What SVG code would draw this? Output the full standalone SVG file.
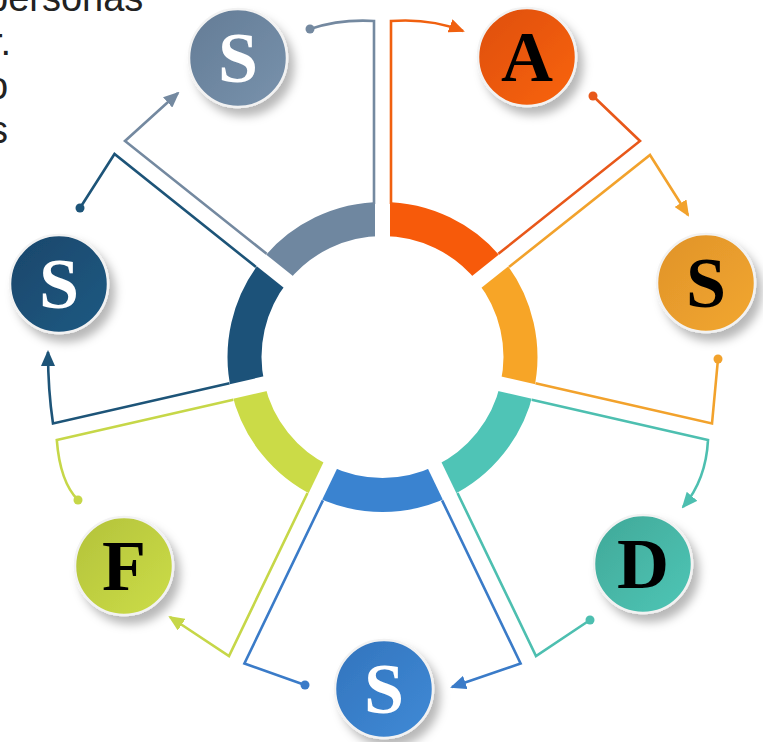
<svg xmlns="http://www.w3.org/2000/svg" width="763" height="742" viewBox="0 0 763 742">
<style>
.seg{fill:none;stroke-width:34}
.gap{stroke:#fff;stroke-width:15;stroke-linecap:butt}
.con{fill:none;stroke-width:2.6;stroke-linejoin:miter}
.node circle{stroke:#f2f2f2;stroke-width:2.5;filter:url(#sh)}
.lt{font-family:"Liberation Serif","Times New Roman",serif;font-weight:bold;font-size:72px;text-anchor:middle}
.side{font-family:"Liberation Sans",Arial,sans-serif;font-size:38px;fill:#222}
</style>
<defs>
<filter id="sh" x="-30%" y="-30%" width="170%" height="170%">
<feDropShadow dx="6" dy="8" stdDeviation="5" flood-color="#000" flood-opacity="0.28"/>
</filter>
<linearGradient id="gGray" x1="0" y1="0" x2="1" y2="1"><stop offset="0" stop-color="#647C96"/><stop offset="1" stop-color="#7892AC"/></linearGradient>
<linearGradient id="gOra" x1="0" y1="0" x2="1" y2="1"><stop offset="0" stop-color="#DE4E0A"/><stop offset="1" stop-color="#F9640E"/></linearGradient>
<linearGradient id="gAmb" x1="0" y1="0" x2="1" y2="1"><stop offset="0" stop-color="#E0932A"/><stop offset="1" stop-color="#F2A730"/></linearGradient>
<linearGradient id="gTeal" x1="0" y1="0" x2="1" y2="1"><stop offset="0" stop-color="#40A898"/><stop offset="1" stop-color="#4FC6B6"/></linearGradient>
<linearGradient id="gBlue" x1="0" y1="0" x2="1" y2="1"><stop offset="0" stop-color="#3374BD"/><stop offset="1" stop-color="#3F8AD6"/></linearGradient>
<linearGradient id="gLime" x1="0" y1="0" x2="1" y2="1"><stop offset="0" stop-color="#B3C23B"/><stop offset="1" stop-color="#CCDD48"/></linearGradient>
<linearGradient id="gNavy" x1="0" y1="0" x2="1" y2="1"><stop offset="0" stop-color="#18476B"/><stop offset="1" stop-color="#205982"/></linearGradient>
<marker id="aGray" markerUnits="userSpaceOnUse" markerWidth="16" markerHeight="14" refX="14" refY="7" orient="auto"><path d="M0,0 L16,7 L0,14 z" fill="#7489A0"/></marker>
<marker id="aOra" markerUnits="userSpaceOnUse" markerWidth="16" markerHeight="14" refX="14" refY="7" orient="auto"><path d="M0,0 L16,7 L0,14 z" fill="#F0600F"/></marker>
<marker id="aAmb" markerUnits="userSpaceOnUse" markerWidth="16" markerHeight="14" refX="14" refY="7" orient="auto"><path d="M0,0 L16,7 L0,14 z" fill="#F2A22C"/></marker>
<marker id="aTeal" markerUnits="userSpaceOnUse" markerWidth="16" markerHeight="14" refX="14" refY="7" orient="auto"><path d="M0,0 L16,7 L0,14 z" fill="#4DBFB0"/></marker>
<marker id="aBlue" markerUnits="userSpaceOnUse" markerWidth="16" markerHeight="14" refX="14" refY="7" orient="auto"><path d="M0,0 L16,7 L0,14 z" fill="#3A7BC8"/></marker>
<marker id="aLime" markerUnits="userSpaceOnUse" markerWidth="16" markerHeight="14" refX="14" refY="7" orient="auto"><path d="M0,0 L16,7 L0,14 z" fill="#C6D748"/></marker>
<marker id="aNavy" markerUnits="userSpaceOnUse" markerWidth="16" markerHeight="14" refX="14" refY="7" orient="auto"><path d="M0,0 L16,7 L0,14 z" fill="#1D5478"/></marker>
</defs>
<rect width="763" height="742" fill="#fff"/>

<g id="side-text">
<text class="side" x="-13" y="11">personas</text>
<text class="side" x="-10" y="55">r.</text>
<text class="side" x="-13" y="99">o</text>
<text class="side" x="-11" y="143">s</text>
</g>

<g id="ring">
<path class="seg" stroke="#F75A0A" d="M382.5,219 A138,138 0 0 1 490.4,271"/>
<path class="seg" stroke="#F7A527" d="M490.4,271 A138,138 0 0 1 517,387.7"/>
<path class="seg" stroke="#4FC4B6" d="M517,387.7 A138,138 0 0 1 442.4,481.3"/>
<path class="seg" stroke="#3A83D0" d="M442.4,481.3 A138,138 0 0 1 322.6,481.3"/>
<path class="seg" stroke="#CBDB47" d="M322.6,481.3 A138,138 0 0 1 248,387.7"/>
<path class="seg" stroke="#1C5279" d="M248,387.7 A138,138 0 0 1 274.6,271"/>
<path class="seg" stroke="#6F87A0" d="M274.6,271 A138,138 0 0 1 382.5,219"/>
<line class="gap" x1="382.5" y1="357" x2="382.5" y2="192"/>
<line class="gap" x1="382.5" y1="357" x2="511.5" y2="254.1"/>
<line class="gap" x1="382.5" y1="357" x2="543.4" y2="393.7"/>
<line class="gap" x1="382.5" y1="357" x2="454.1" y2="505.7"/>
<line class="gap" x1="382.5" y1="357" x2="310.9" y2="505.7"/>
<line class="gap" x1="382.5" y1="357" x2="221.6" y2="393.7"/>
<line class="gap" x1="382.5" y1="357" x2="253.5" y2="254.1"/>
</g>

<g id="connectors">
<path class="con" stroke="#7489A0" d="M374,204 L374,21 Q340,19 310,29"/>
<circle cx="310" cy="29" r="4.5" fill="#7489A0"/>
<path class="con" stroke="#F0600F" marker-end="url(#aOra)" d="M391,204 L391,21 Q430,18 463,31"/>
<path class="con" stroke="#E8581A" d="M498.4,253.8 L640,141 L593,96"/>
<circle cx="593" cy="96" r="4.5" fill="#E8581A"/>
<path class="con" stroke="#F2A22C" marker-end="url(#aAmb)" d="M509,267 L650,155 L688,215"/>
<path class="con" stroke="#F2A22C" d="M535.5,383.2 L712,423.5 L718,359"/>
<circle cx="718" cy="359" r="4.5" fill="#F2A22C"/>
<path class="con" stroke="#4DBFB0" marker-end="url(#aTeal)" d="M531.7,399.8 L708,440 Q706,480 683,507"/>
<path class="con" stroke="#4DBFB0" d="M457.5,493 L536,656 L590,620"/>
<circle cx="590" cy="620" r="4.5" fill="#4DBFB0"/>
<path class="con" stroke="#3A7BC8" marker-end="url(#aBlue)" d="M442.1,500.4 L520.6,663.5 L452,687"/>
<path class="con" stroke="#3A7BC8" d="M322.9,500.4 L244.4,663.5 L305,685"/>
<circle cx="305" cy="685" r="4.5" fill="#3A7BC8"/>
<path class="con" stroke="#C6D748" marker-end="url(#aLime)" d="M307.5,493 L229,656 L170,617"/>
<path class="con" stroke="#C6D748" d="M233.3,399.8 L56.8,440 Q60,482 78,500"/>
<circle cx="78" cy="500" r="4.5" fill="#C6D748"/>
<path class="con" stroke="#1D5478" marker-end="url(#aNavy)" d="M229.5,383.2 L53,423.5 Q48,390 48,352"/>
<path class="con" stroke="#1D5478" d="M256,267 L114.5,154 L80,208"/>
<circle cx="80" cy="208" r="4.5" fill="#1D5478"/>
<path class="con" stroke="#7489A0" marker-end="url(#aGray)" d="M266.6,253.8 L125,141 L178,93"/>
</g>

<g id="node-gray-s" class="node"><circle cx="238" cy="58" r="49" fill="url(#gGray)"/><text class="lt" x="238" y="82" fill="#fff">S</text></g>
<g id="node-a" class="node"><circle cx="527" cy="57" r="49" fill="url(#gOra)"/><text class="lt" x="527" y="81" fill="#000">A</text></g>
<g id="node-amber-s" class="node"><circle cx="706" cy="283" r="49" fill="url(#gAmb)"/><text class="lt" x="706" y="307" fill="#000">S</text></g>
<g id="node-d" class="node"><circle cx="643" cy="564" r="49" fill="url(#gTeal)"/><text class="lt" x="643" y="588" fill="#000">D</text></g>
<g id="node-blue-s" class="node"><circle cx="384" cy="689" r="49" fill="url(#gBlue)"/><text class="lt" x="384" y="713" fill="#fff">S</text></g>
<g id="node-f" class="node"><circle cx="124" cy="566" r="49" fill="url(#gLime)"/><text class="lt" x="124" y="590" fill="#000">F</text></g>
<g id="node-navy-s" class="node"><circle cx="59" cy="284" r="49" fill="url(#gNavy)"/><text class="lt" x="59" y="308" fill="#fff">S</text></g>
</svg>
